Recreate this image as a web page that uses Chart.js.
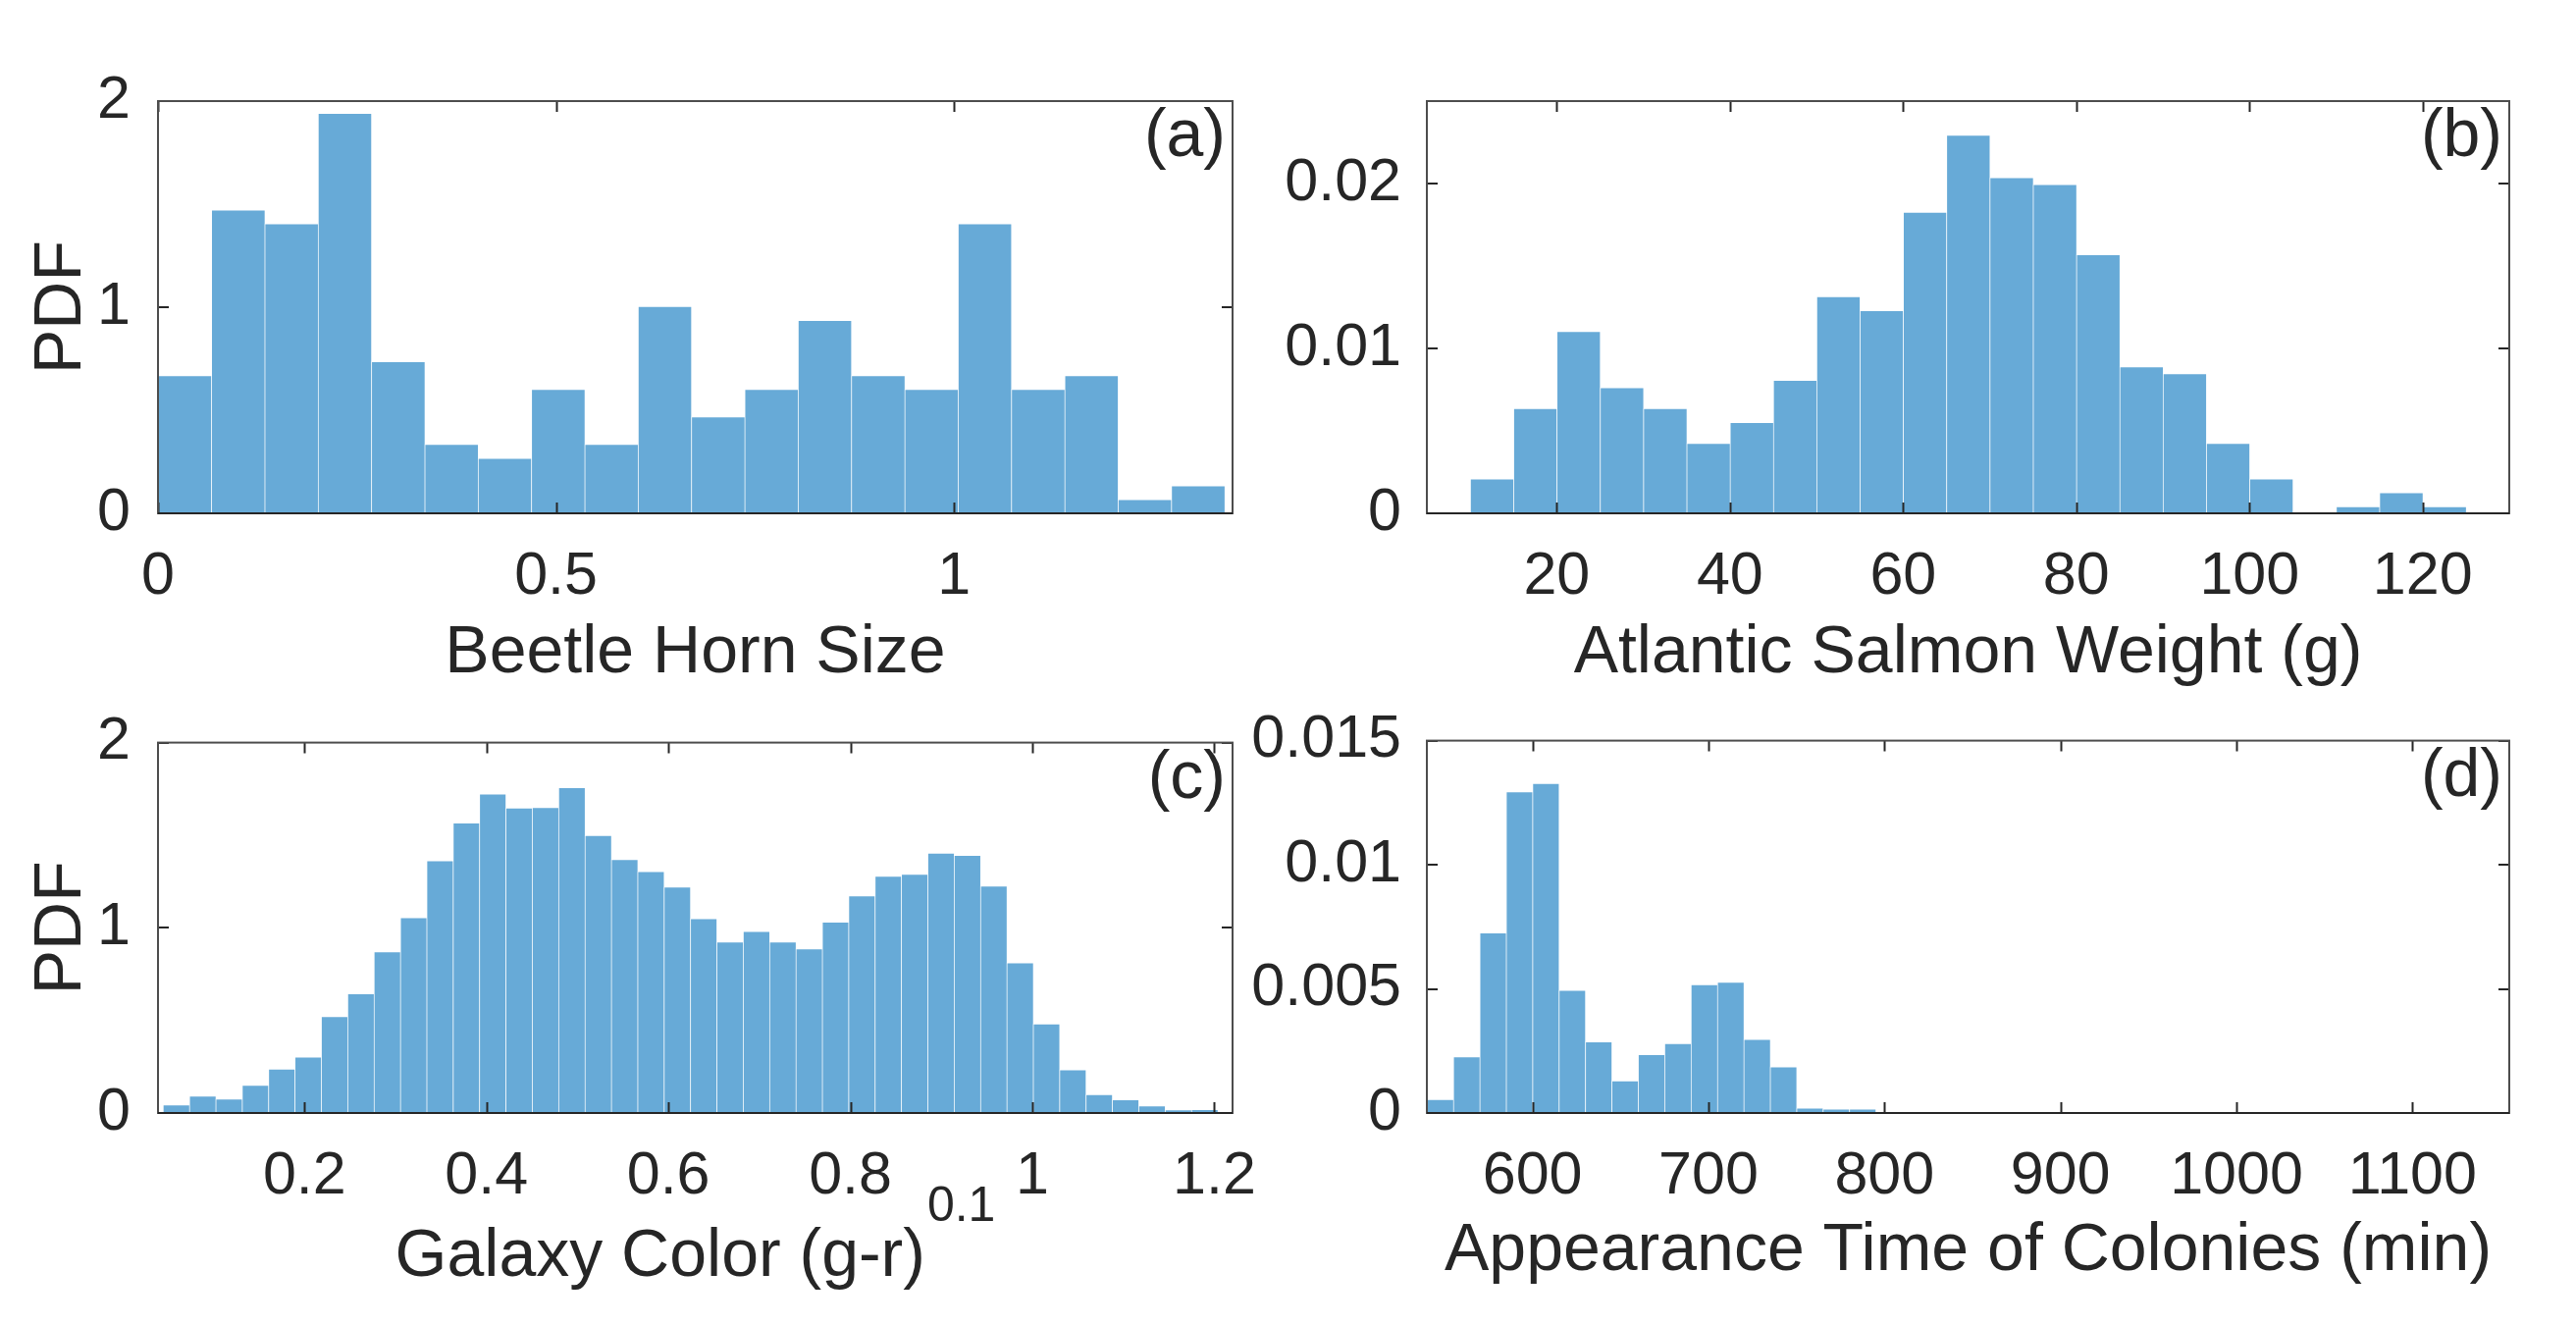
<!DOCTYPE html>
<html>
<head>
<meta charset="utf-8">
<title>PDF histograms</title>
<script src="https://cdn.jsdelivr.net/npm/chart.js@4.4.0/dist/chart.umd.min.js"></script>
<style>
  html, body { margin: 0; padding: 0; background: #fff; }
  #fig { position: relative; width: 2625px; height: 1350px; overflow: hidden; background: #fff; }
  #fig canvas { position: absolute; }
</style>
</head>
<body>
<div id="fig">
  <canvas id="chartA" width="1320" height="710" style="left:0px;top:0px"></canvas>
  <canvas id="chartB" width="1363" height="710" style="left:1262px;top:0px"></canvas>
  <canvas id="chartC" width="1320" height="650" style="left:0px;top:700px"></canvas>
  <canvas id="chartD" width="1363" height="650" style="left:1262px;top:700px"></canvas>
</div>
<script>
// (a) Beetle horn size
const hornBinStart = 0;
const hornBinWidth = 0.067;
const hornPdf = [0.669, 1.472, 1.406, 1.941, 0.736, 0.335, 0.268, 0.602, 0.335, 1.004,
                 0.469, 0.602, 0.937, 0.669, 0.602, 1.406, 0.602, 0.669, 0.067, 0.134];
const hornXTicks = [0, 0.5, 1];
const hornXLabels = ['0', '0.5', '1'];
const hornYTicks = [0, 1, 2];
const hornYLabels = ['0', '1', '2'];

// (b) Atlantic salmon weight
const salmonBinStart = 10;
const salmonBinWidth = 5;
const salmonPdf = [0.00209, 0.00637, 0.01103, 0.00763, 0.00637, 0.00425, 0.00552, 0.00807,
                   0.01315, 0.0123, 0.01827, 0.02294, 0.02036, 0.01995, 0.0157, 0.0089,
                   0.00848, 0.00425, 0.00209, 0, 0.00041, 0.00126, 0.00041];
const salmonXTicks = [20, 40, 60, 80, 100, 120];
const salmonXLabels = ['20', '40', '60', '80', '100', '120'];
const salmonYTicks = [0, 0.01, 0.02];
const salmonYLabels = ['0', '0.01', '0.02'];

// (c) Galaxy colour
const galaxyBinStart = 0.0444;
const galaxyBinWidth = 0.02898;
const galaxyPdf = [0.045, 0.092, 0.077, 0.151, 0.238, 0.303, 0.521, 0.645, 0.871, 1.056,
                   1.363, 1.567, 1.723, 1.648, 1.650, 1.758, 1.499, 1.369, 1.304, 1.221,
                   1.050, 0.924, 0.981, 0.924, 0.887, 1.032, 1.174, 1.280, 1.290, 1.404,
                   1.392, 1.227, 0.812, 0.482, 0.234, 0.100, 0.073, 0.039, 0.018, 0.020];
const galaxyXTicks = [0.2, 0.4, 0.6, 0.8, 1, 1.2];
const galaxyXLabels = ['0.2', '0.4', '0.6', '0.8', '1', '1.2'];
const galaxyYTicks = [0, 1, 2];
const galaxyYLabels = ['0', '1', '2'];

// (d) Colony appearance time
const colonyBinStart = 540;
const colonyBinWidth = 15;
const colonyPdf = [0.00055, 0.00227, 0.00726, 0.01294, 0.01328, 0.00495, 0.00287, 0.0013,
                   0.00236, 0.0028, 0.00518, 0.00527, 0.00297, 0.00186, 0.0002, 0.00016,
                   0.00016, 0, 0, 0, 0.00005, 0, 0, 0, 0, 0, 0, 0, 0.00005, 0,
                   0, 0, 0, 0, 0, 0, 0, 0, 0.00005, 0, 0];
const colonyXTicks = [600, 700, 800, 900, 1000, 1100];
const colonyXLabels = ['600', '700', '800', '900', '1000', '1100'];
const colonyYTicks = [0, 0.005, 0.01, 0.015];
const colonyYLabels = ['0', '0.005', '0.01', '0.015'];

const FONT = '"Liberation Sans", Arial, Helvetica, sans-serif';
const textColor = '#262626';
const axisColor = '#262626';
const barFill = '#67AAD7';
const barEdge = 'rgba(255,255,255,0.35)';

Chart.defaults.font.family = FONT;

// box, inward ticks, panel letter (and the superscript title for panel c)
function framePlugin(cfg) {
  return {
    id: 'frame',
    afterDatasetsDraw(chart) {
      const ctx = chart.ctx;
      const a = chart.chartArea;
      const x = chart.scales.x;
      const y = chart.scales.y;
      const len = 11;
      ctx.save();
      ctx.strokeStyle = axisColor;
      ctx.lineWidth = 2;
      ctx.beginPath();
      cfg.xTicks.forEach(v => {
        const px = Math.round(x.getPixelForValue(v)) + 0.5;
        ctx.moveTo(px, a.bottom); ctx.lineTo(px, a.bottom - len);
        ctx.moveTo(px, a.top); ctx.lineTo(px, a.top + len);
      });
      cfg.yTicks.forEach(v => {
        const py = Math.round(y.getPixelForValue(v));
        ctx.moveTo(a.left, py); ctx.lineTo(a.left + len, py);
        ctx.moveTo(a.right, py); ctx.lineTo(a.right - len, py);
      });
      ctx.stroke();

      ctx.strokeStyle = '#4d4d4d';
      ctx.strokeRect(a.left, a.top, a.right - a.left, a.bottom - a.top);
      ctx.strokeStyle = axisColor;
      ctx.beginPath();
      ctx.moveTo(a.left, a.bottom); ctx.lineTo(a.right, a.bottom);
      ctx.stroke();

      ctx.fillStyle = textColor;
      ctx.font = '68px ' + FONT;
      ctx.textAlign = 'right';
      ctx.textBaseline = 'alphabetic';
      ctx.fillText(cfg.letter, a.right - 7, a.top + 56);

      if (cfg.supTitle) {
        const mainFont = '68px ' + FONT;
        const supFont = '50px ' + FONT;
        ctx.font = mainFont;
        const w1 = ctx.measureText(cfg.supTitle[0]).width;
        ctx.font = supFont;
        const w2 = ctx.measureText(cfg.supTitle[1]).width;
        const start = (a.left + a.right) / 2 - (w1 + w2 + 2) / 2;
        const base = chart.height - 50;
        ctx.textAlign = 'left';
        ctx.font = mainFont;
        ctx.fillText(cfg.supTitle[0], start, base);
        ctx.font = supFont;
        ctx.fillText(cfg.supTitle[1], start + w1 + 2, base - 56);
      }
      ctx.restore();
    }
  };
}

function histChart(canvasId, cfg) {
  const points = cfg.values.map((v, i) => ({ x: cfg.binStart + (i + 0.5) * cfg.binWidth, y: v }));
  return new Chart(document.getElementById(canvasId), {
    type: 'bar',
    data: {
      datasets: [{
        data: points,
        backgroundColor: barFill,
        borderColor: barEdge,
        borderWidth: { left: 1, top: 1, right: 0, bottom: 0 },
        borderSkipped: false,
        barPercentage: 1,
        categoryPercentage: 1
      }]
    },
    options: {
      responsive: false,
      animation: false,
      events: [],
      layout: { padding: { top: cfg.padTop, right: cfg.padRight, left: 0, bottom: 0 } },
      plugins: {
        legend: { display: false },
        tooltip: { enabled: false }
      },
      scales: {
        x: {
          type: 'linear',
          bounds: 'data',
          offset: false,
          min: cfg.xMin,
          max: cfg.xMax,
          grid: { display: false, offset: false },
          border: { display: false },
          afterBuildTicks: s => { s.ticks = cfg.xTicks.map(v => ({ value: v })); },
          afterFit: s => { s.height = cfg.xAxisHeight; },
          ticks: {
            autoSkip: false,
            maxRotation: 0,
            padding: 21,
            color: textColor,
            font: { size: 61 },
            callback: (v, i) => cfg.xLabels[i]
          },
          title: {
            display: !!cfg.xTitle,
            text: cfg.xTitle || '',
            color: textColor,
            font: { size: 68 },
            padding: { top: 0, bottom: cfg.xTitlePad }
          }
        },
        y: {
          type: 'linear',
          bounds: 'data',
          min: 0,
          max: cfg.yMax,
          grid: { display: false },
          border: { display: false },
          afterBuildTicks: s => { s.ticks = cfg.yTicks.map(v => ({ value: v })); },
          afterFit: s => { s.width = cfg.yAxisWidth; },
          ticks: {
            autoSkip: false,
            padding: cfg.yTickPad,
            color: textColor,
            font: { size: 61 },
            callback: (v, i) => cfg.yLabels[i]
          },
          title: {
            display: !!cfg.yTitle,
            text: cfg.yTitle || '',
            color: textColor,
            font: { size: 68 },
            padding: { top: 22, bottom: 0 }
          }
        }
      }
    },
    plugins: [framePlugin(cfg)]
  });
}

window.addEventListener('load', function() {
  histChart('chartA', {
    values: hornPdf, binStart: hornBinStart, binWidth: hornBinWidth,
    xMin: 0, xMax: 1.35, yMax: 2,
    xTicks: hornXTicks, xLabels: hornXLabels, yTicks: hornYTicks, yLabels: hornYLabels,
    xTitle: 'Beetle Horn Size', yTitle: 'PDF', letter: '(a)',
    padTop: 103, padRight: 64, yAxisWidth: 161, xAxisHeight: 187, xTitlePad: 3, yTickPad: 20
  });
  histChart('chartB', {
    values: salmonPdf, binStart: salmonBinStart, binWidth: salmonBinWidth,
    xMin: 5, xMax: 130, yMax: 0.025,
    xTicks: salmonXTicks, xLabels: salmonXLabels, yTicks: salmonYTicks, yLabels: salmonYLabels,
    xTitle: 'Atlantic Salmon Weight (g)', letter: '(b)',
    padTop: 103, padRight: 68, yAxisWidth: 192, xAxisHeight: 187, xTitlePad: 3, yTickPad: 18
  });
  histChart('chartC', {
    values: galaxyPdf, binStart: galaxyBinStart, binWidth: galaxyBinWidth,
    xMin: 0.039, xMax: 1.22, yMax: 2,
    xTicks: galaxyXTicks, xLabels: galaxyXLabels, yTicks: galaxyYTicks, yLabels: galaxyYLabels,
    supTitle: ['Galaxy Color (g-r)', '0.1'], yTitle: 'PDF', letter: '(c)',
    padTop: 14, padRight: 64, yAxisWidth: 161, xAxisHeight: 216, xTitlePad: 34, yTickPad: 20
  });
  histChart('chartD', {
    values: colonyPdf, binStart: colonyBinStart, binWidth: colonyBinWidth,
    xMin: 540, xMax: 1155, yMax: 0.015,
    xTicks: colonyXTicks, xLabels: colonyXLabels, yTicks: colonyYTicks, yLabels: colonyYLabels,
    xTitle: 'Appearance Time of Colonies (min)', letter: '(d)',
    padTop: 14, padRight: 68, yAxisWidth: 192, xAxisHeight: 216, xTitlePad: 34, yTickPad: 18
  });
});
</script>
</body>
</html>
